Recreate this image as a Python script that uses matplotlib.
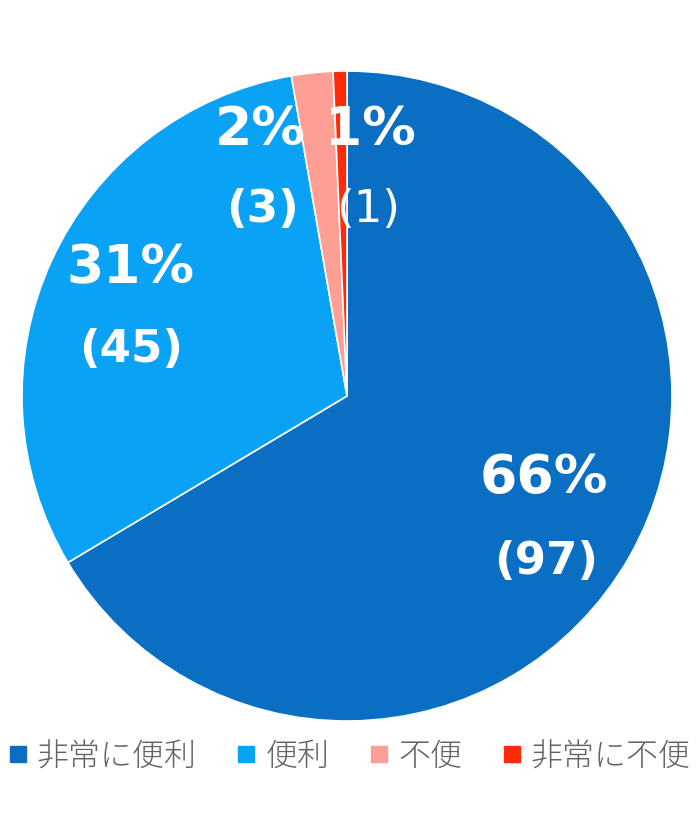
import matplotlib
matplotlib.use("Agg")
import matplotlib.pyplot as plt
from matplotlib.lines import Line2D
import numpy as np

categories = ["非常に便利", "便利", "不便", "非常に不便"]
counts = [97, 45, 3, 1]
colors = ["#0A6FC2", "#0AA2F5", "#FF9E94", "#FF2A0A"]

plt.rcParams['font.family'] = ['Noto Sans CJK JP', 'DejaVu Sans']

W, H = 696, 837
fig = plt.figure(figsize=(W / 100, H / 100), dpi=100)
cx, cy, R = 347, 397, 325
ax = fig.add_axes([(cx - R) / W, (H - cy - R) / H, 2 * R / W, 2 * R / H])

wedges, _ = ax.pie(counts, colors=colors, startangle=90, counterclock=False,
                   radius=1.0, wedgeprops=dict(edgecolor="white", linewidth=1.2))
ax.set_xlim(-1, 1)
ax.set_ylim(-1, 1)
ax.set_aspect("equal")
ax.axis("off")

total = sum(counts)
# label anchor positions (pixel coords in figure): pct line and count line
label_pos = [((544, 478), (546, 562)),
             ((131, 268), (131, 350)),
             ((260, 130), (263, 210)),
             ((370, 130), (368, 210))]
pct_weights = ["bold", "bold", "bold", "semibold"]
cnt_weights = ["bold", "bold", "bold", "normal"]
for c, ((px, py), (qx, qy)), wp, wc in zip(counts, label_pos, pct_weights, cnt_weights):
    pct = round(c / total * 100)
    fig.text(px / W, 1 - py / H, f"{pct}%", color="white", fontsize=38.5,
             fontweight=wp, ha="center", va="center", family="DejaVu Sans")
    fig.text(qx / W, 1 - qy / H, f"({c})", color="white", fontsize=32.5,
             fontweight=wc, ha="center", va="center", family="DejaVu Sans")

handles = [Line2D([], [], marker="s", linestyle="none", markersize=12,
                  markerfacecolor=col, markeredgecolor=col) for col in colors]
leg = fig.legend(handles, categories, loc="center", bbox_to_anchor=(0.502, 1 - 757 / H),
                 ncol=4, frameon=False, handlelength=0.6,
                 handletextpad=0.3, columnspacing=1.25, labelcolor="#636363",
                 prop=dict(family=['Noto Sans CJK JP', 'DejaVu Sans'], size=23, weight="light"))

fig.savefig("out.png", dpi=100, facecolor="white")
